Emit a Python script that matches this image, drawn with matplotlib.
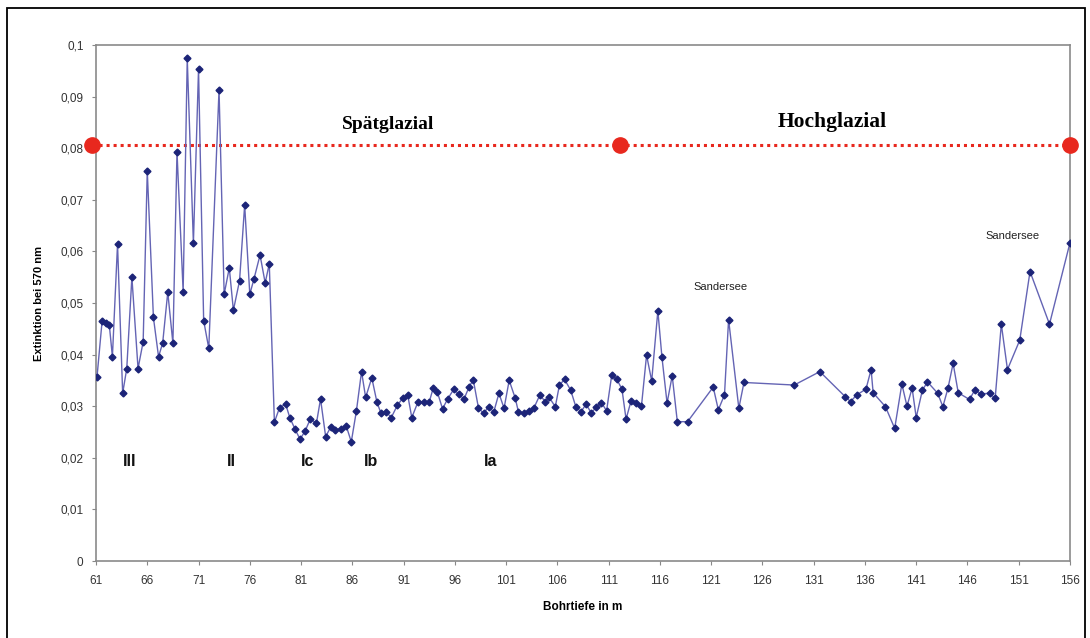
import numpy as np
import matplotlib
matplotlib.use('Agg')
import matplotlib.pyplot as plt
from matplotlib.patches import Rectangle

# Bohrtiefe [m] und Extinktion bei 570 nm
tiefe = [61.1, 61.6, 62.0, 62.3, 62.6, 63.1, 63.6, 64.0, 64.5, 65.1,
         65.6, 66.0, 66.6, 67.1, 67.5, 68.0, 68.5, 68.9, 69.5, 69.9,
         70.5, 71.0, 71.5, 72.0, 73.0, 73.5, 74.0, 74.4, 75.0, 75.5,
         76.0, 76.4, 77.0, 77.5, 77.9, 78.4, 78.9, 79.5, 79.9, 80.4,
         80.9, 81.4, 81.9, 82.5, 82.9, 83.4, 83.9, 84.3, 84.9, 85.4,
         85.9, 86.4, 86.9, 87.3, 87.9, 88.4, 88.8, 89.3, 89.8, 90.4,
         90.9, 91.4, 91.8, 92.4, 93.0, 93.5, 93.9, 94.3, 94.8, 95.3,
         95.9, 96.4, 96.9, 97.4, 97.8, 98.3, 98.8, 99.3, 99.8, 100.3,
         100.8, 101.3, 101.9, 102.2, 102.7, 103.2, 103.7, 104.3, 104.8, 105.2,
         105.8, 106.2, 106.7, 107.3, 107.8, 108.3, 108.8, 109.3, 109.8, 110.3,
         110.8, 111.3, 111.8, 112.3, 112.7, 113.2, 113.7, 114.2, 114.7, 115.2,
         115.8, 116.2, 116.7, 117.2, 117.7, 118.7, 121.2, 121.7, 122.3, 122.7,
         123.7, 124.2, 129.1, 131.6, 134.1, 134.6, 135.2, 136.1, 136.6, 136.8,
         138.0, 138.9, 139.6, 140.1, 140.6, 141.0, 141.6, 142.1, 143.1, 143.6,
         144.1, 144.6, 145.1, 146.2, 146.7, 147.3, 148.2, 148.7, 149.3, 149.9,
         151.1, 152.1, 154.0, 156.0]

extinktion = [0.0357, 0.0466, 0.0461, 0.0457, 0.0396, 0.0614, 0.0325, 0.0373, 0.0550, 0.0373,
              0.0425, 0.0756, 0.0472, 0.0396, 0.0422, 0.0521, 0.0422, 0.0793, 0.0522, 0.0974,
              0.0616, 0.0953, 0.0466, 0.0412, 0.0913, 0.0517, 0.0568, 0.0486, 0.0543, 0.0690,
              0.0517, 0.0546, 0.0593, 0.0539, 0.0576, 0.0269, 0.0297, 0.0304, 0.0278, 0.0256,
              0.0236, 0.0252, 0.0275, 0.0267, 0.0314, 0.0241, 0.0260, 0.0254, 0.0256, 0.0262,
              0.0231, 0.0291, 0.0367, 0.0317, 0.0355, 0.0308, 0.0286, 0.0289, 0.0278, 0.0302,
              0.0315, 0.0322, 0.0278, 0.0308, 0.0308, 0.0308, 0.0336, 0.0327, 0.0295, 0.0314,
              0.0333, 0.0323, 0.0314, 0.0338, 0.0351, 0.0297, 0.0286, 0.0299, 0.0289, 0.0325,
              0.0296, 0.0350, 0.0315, 0.0289, 0.0287, 0.0291, 0.0296, 0.0322, 0.0309, 0.0317,
              0.0299, 0.0341, 0.0352, 0.0331, 0.0299, 0.0289, 0.0304, 0.0287, 0.0298, 0.0307,
              0.0291, 0.0360, 0.0352, 0.0333, 0.0275, 0.0311, 0.0306, 0.0300, 0.0399, 0.0349,
              0.0485, 0.0395, 0.0306, 0.0359, 0.0270, 0.0270, 0.0337, 0.0293, 0.0322, 0.0468,
              0.0296, 0.0346, 0.0341, 0.0367, 0.0318, 0.0309, 0.0322, 0.0333, 0.0371, 0.0326,
              0.0299, 0.0257, 0.0343, 0.0300, 0.0335, 0.0278, 0.0331, 0.0347, 0.0325, 0.0299,
              0.0335, 0.0383, 0.0326, 0.0313, 0.0331, 0.0324, 0.0325, 0.0315, 0.0459, 0.0371,
              0.0428, 0.0561, 0.0459, 0.0617]

# Grenze Spätglazial / Hochglazial
grenze_x = [60.6, 112.1, 156.0]
grenze_y = [0.0806, 0.0806, 0.0806]

# Abschnitte
abschnitt_namen = ['III', 'II', 'Ic', 'Ib', 'Ia']
abschnitt_x = [64.3, 74.2, 81.6, 87.8, 99.5]
abschnitt_y = 0.0192

xticks = list(range(61, 157, 5))
yticks = [i / 100 for i in range(0, 11)]
ylabels = ['0'] + [('%g' % v).replace('.', ',') for v in yticks[1:]]

plt.rcParams['font.family'] = ['Liberation Sans', 'DejaVu Sans']

fig = plt.figure(figsize=(10.9, 6.38), dpi=100)
ax = fig.add_axes([96 / 1090, 1 - 561 / 638, (1070 - 96) / 1090, (561 - 45) / 638])

ax.plot(tiefe, extinktion, color='#6464b4', linewidth=1.0, zorder=3)
ax.plot(tiefe, extinktion, linestyle='none', marker='D', markersize=3.5,
        color='#1c2478', zorder=4)

ax.plot(grenze_x, grenze_y, color='#e8281e', linewidth=2.2,
        linestyle=(0, (1, 1.3)), zorder=2, clip_on=False)
ax.plot(grenze_x, grenze_y, linestyle='none', marker='o', markersize=11,
        color='#e8281e', zorder=5, clip_on=False)

ax.text(89.5, 0.0845, 'Spätglazial', fontsize=14, fontweight='bold',
        family='Liberation Serif', ha='center', va='center')
ax.text(132.8, 0.0851, 'Hochglazial', fontsize=15.5, fontweight='bold',
        family='Liberation Serif', ha='center', va='center')
ax.text(121.9, 0.0531, 'Sandersee', fontsize=8, ha='center', va='center', color='#222222')
ax.text(150.4, 0.0630, 'Sandersee', fontsize=8, ha='center', va='center', color='#222222')

for name, x in zip(abschnitt_namen, abschnitt_x):
    ax.text(x, abschnitt_y, name, fontsize=11.5, fontweight='bold',
            ha='center', va='center', color='#111111')

ax.set_xlim(61, 156)
ax.set_ylim(0, 0.1)
ax.set_xticks(xticks)
ax.set_xticklabels([str(t) for t in xticks])
ax.set_yticks(yticks)
ax.set_yticklabels(ylabels)
ax.tick_params(axis='both', labelsize=8.5, labelcolor='#333333', color='#888888',
               length=3, width=0.8)
ax.tick_params(axis='x', pad=7)
ax.tick_params(axis='y', pad=6)
for sp in ax.spines.values():
    sp.set_color('#8a8a8a')
    sp.set_linewidth(1.2)

ax.set_xlabel('Bohrtiefe in m', fontsize=8.5, fontweight='bold', labelpad=10)
ax.set_ylabel('Extinktion bei 570 nm', fontsize=8, fontweight='bold', labelpad=12)

# Rahmen um die Abbildung
fig.add_artist(Rectangle((7 / 1090, -0.01), (1085 - 7) / 1090, 1 - 8 / 638 + 0.01,
                         transform=fig.transFigure, fill=False,
                         edgecolor='black', linewidth=1.3))

fig.savefig('out.png', dpi=100)
